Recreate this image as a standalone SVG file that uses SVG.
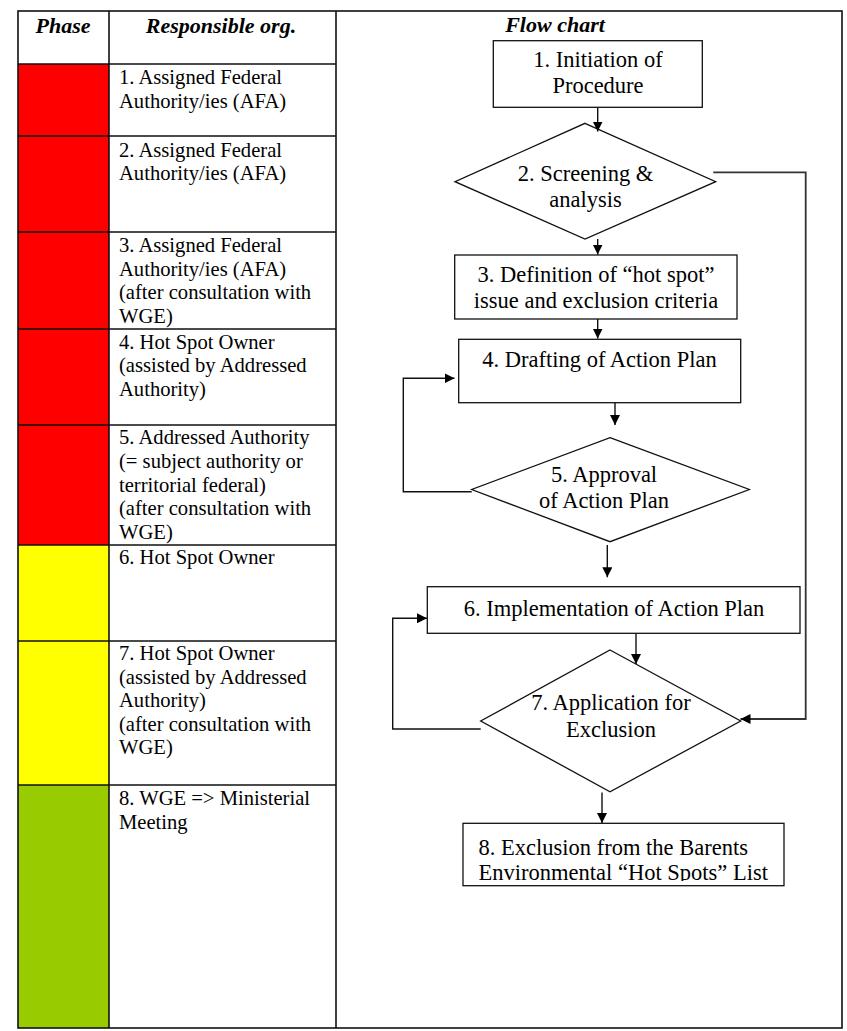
<svg xmlns="http://www.w3.org/2000/svg" width="847" height="1031" viewBox="0 0 847 1031">
<style>
.grid{stroke:#111;stroke-width:1.6;fill:none}
.hd{font-family:"Liberation Serif",serif;font-size:22px;font-weight:bold;font-style:italic;text-anchor:middle;fill:#000}
.tb{font-family:"Liberation Serif",serif;font-size:20.6px;fill:#000}
.fc{font-family:"Liberation Serif",serif;font-size:22.5px;fill:#000;text-anchor:middle}
.shape{fill:#fff;stroke:#111;stroke-width:1.3}
.conn{fill:none;stroke:#111;stroke-width:1.4}
</style>
<defs>
<marker id="arr" markerUnits="userSpaceOnUse" markerWidth="11" markerHeight="10" refX="10" refY="5" orient="auto">
<path d="M0,0 L10,5 L0,10 z" fill="#000"/>
</marker>
<clipPath id="clip8"><rect x="463" y="823" width="323" height="58"/></clipPath>
</defs>
<rect width="847" height="1031" fill="#fff"/>
<g id="table">
<rect x="18" y="64" width="91" height="481" fill="#ff0000"/>
<rect x="18" y="545" width="91" height="240" fill="#ffff00"/>
<rect x="18" y="785" width="91" height="243" fill="#99cc00"/>
<rect class="grid" x="18" y="11" width="824" height="1017"/>
<line class="grid" x1="109" y1="11" x2="109" y2="1028"/>
<line class="grid" x1="336" y1="11" x2="336" y2="1028"/>
<path class="grid" d="M18,64H336M18,136H336M18,232H336M18,329H336M18,425H336M18,545H336M18,641H336M18,785H336"/>
<text class="hd" x="63" y="33">Phase</text>
<text class="hd" x="221" y="33">Responsible org.</text>
<text class="hd" x="555" y="32">Flow chart</text>
</g>
<g id="row1" class="tb"><text x="119" y="84">1. Assigned Federal</text><text x="119" y="107.6">Authority/ies (AFA)</text></g>
<g id="row2" class="tb"><text x="119" y="156.5">2. Assigned Federal</text><text x="119" y="180.1">Authority/ies (AFA)</text></g>
<g id="row3" class="tb"><text x="119" y="252">3. Assigned Federal</text><text x="119" y="275.6">Authority/ies (AFA)</text><text x="119" y="299.2">(after consultation with</text><text x="119" y="322.8">WGE)</text></g>
<g id="row4" class="tb"><text x="119" y="348.5">4. Hot Spot Owner</text><text x="119" y="372.1">(assisted by Addressed</text><text x="119" y="395.7">Authority)</text></g>
<g id="row5" class="tb"><text x="119" y="444.4">5. Addressed Authority</text><text x="119" y="468">(= subject authority or</text><text x="119" y="491.6">territorial federal)</text><text x="119" y="515.2">(after consultation with</text><text x="119" y="538.8">WGE)</text></g>
<g id="row6" class="tb"><text x="119" y="564">6. Hot Spot Owner</text></g>
<g id="row7" class="tb"><text x="119" y="660">7. Hot Spot Owner</text><text x="119" y="683.6">(assisted by Addressed</text><text x="119" y="707.2">Authority)</text><text x="119" y="730.8">(after consultation with</text><text x="119" y="754.4">WGE)</text></g>
<g id="row8" class="tb"><text x="119" y="805">8. WGE =&gt; Ministerial</text><text x="119" y="828.6">Meeting</text></g>
<g id="n1"><rect class="shape" x="493.3" y="40.7" width="209" height="66.6"/><text class="fc" x="598" y="66.6">1. Initiation of</text><text class="fc" x="598" y="93">Procedure</text></g>
<g id="n2"><polygon class="shape" points="585,123.3 715.7,181.7 585,239 455,181.7"/><text class="fc" x="585.5" y="181">2. Screening &amp;</text><text class="fc" x="585.5" y="207">analysis</text></g>
<g id="n3"><rect class="shape" x="454.7" y="255" width="282.3" height="64"/><text class="fc" x="596" y="281.6">3. Definition of “hot spot”</text><text class="fc" x="596" y="307.5">issue and exclusion criteria</text></g>
<g id="n4"><rect class="shape" x="458.7" y="339.3" width="282" height="63.4"/><text class="fc" x="599.5" y="366.6">4. Drafting of Action Plan</text></g>
<g id="n5"><polygon class="shape" points="610,437.7 749.3,489.5 610,541.7 471.7,489.5"/><text class="fc" x="604" y="481.6">5. Approval</text><text class="fc" x="604" y="507.7">of Action Plan</text></g>
<g id="n6"><rect class="shape" x="427.3" y="586.7" width="372.7" height="46.6"/><text class="fc" x="614" y="616">6. Implementation of Action Plan</text></g>
<g id="n7"><polygon class="shape" points="610,650 740.7,721 610,791.7 480.7,721"/><text class="fc" x="611" y="710">7. Application for</text><text class="fc" x="611" y="736.5">Exclusion</text></g>
<g id="n8"><rect class="shape" x="463" y="823.3" width="321" height="62.4"/><g clip-path="url(#clip8)"><text class="fc" style="text-anchor:start" x="478.6" y="854.5">8. Exclusion from the Barents</text><text class="fc" style="text-anchor:start" x="478.6" y="879.5">Environmental “Hot Spots” List</text></g></g>
<g id="connectors">
<path class="conn" d="M597.7,107.3V131.5" marker-end="url(#arr)"/>
<path class="conn" d="M597.7,239V254.5" marker-end="url(#arr)"/>
<path class="conn" d="M597.7,319V338.5" marker-end="url(#arr)"/>
<path class="conn" d="M615,402.7V425" marker-end="url(#arr)"/>
<path class="conn" d="M471.7,491.7H403.3V378.3H454.5" marker-end="url(#arr)"/>
<path class="conn" d="M607.3,545V577.3" marker-end="url(#arr)"/>
<path class="conn" d="M480.7,729H392.7V618.3H427" marker-end="url(#arr)"/>
<path class="conn" d="M636,633.3V664" marker-end="url(#arr)"/>
<path class="conn" style="stroke:#333;stroke-width:1.8" d="M713.3,172.3H805.7V719H740.5" marker-end="url(#arr)"/>
<path class="conn" d="M602,792.5V823" marker-end="url(#arr)"/>
</g>
</svg>
